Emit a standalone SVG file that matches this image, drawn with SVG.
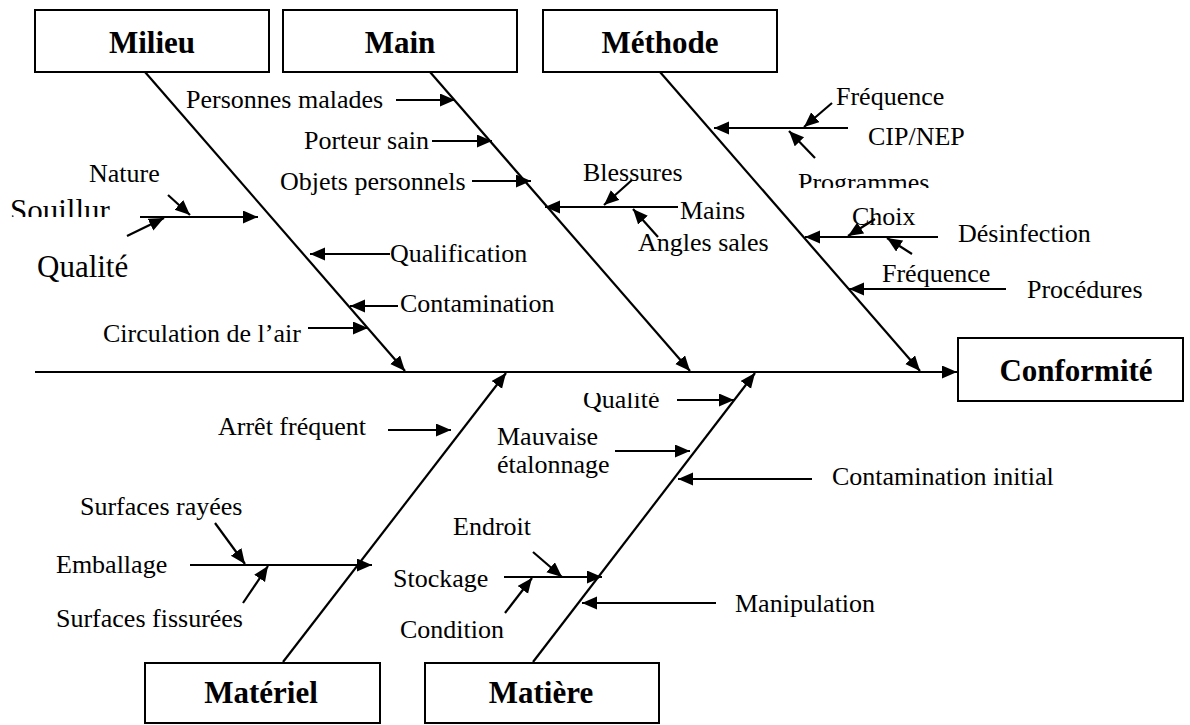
<svg xmlns="http://www.w3.org/2000/svg" width="1190" height="725" viewBox="0 0 1190 725">
  <style>
    .box { fill: #fff; stroke: #000; stroke-width: 2; }
    .head { font-family: "Liberation Serif", "Times New Roman", serif; font-weight: bold; font-size: 31px; fill: #000; text-anchor: middle; }
    .lbl { font-family: "Liberation Serif", "Times New Roman", serif; font-size: 26px; fill: #000; }
    .big { font-family: "Liberation Serif", "Times New Roman", serif; font-size: 31px; fill: #000; }
    .ln { stroke: #000; stroke-width: 2.2; fill: none; marker-end: url(#ah); }
  </style>
  <defs>
    <marker id="ah" markerUnits="userSpaceOnUse" markerWidth="16" markerHeight="14" refX="15" refY="6.5" orient="auto">
      <path d="M0,0 L15,6.5 L0,13 z" fill="#000"/>
    </marker>
    <clipPath id="clipTop217"><rect x="0" y="0" width="300" height="217"/></clipPath>
    <clipPath id="clipTop188"><rect x="700" y="0" width="400" height="188"/></clipPath>
    <clipPath id="clipBelow393"><rect x="500" y="393" width="300" height="100"/></clipPath>
  </defs>

  <!-- cause category boxes -->
  <g id="milieu"><rect class="box" x="35" y="10" width="234" height="62"/><text class="head" x="152" y="53">Milieu</text></g>
  <g id="main"><rect class="box" x="283" y="10" width="234" height="62"/><text class="head" x="400" y="53">Main</text></g>
  <g id="methode"><rect class="box" x="543" y="10" width="234" height="62"/><text class="head" x="660" y="53">Méthode</text></g>
  <g id="conformite"><rect class="box" x="958" y="338" width="225" height="63"/><text class="head" x="1076" y="381">Conformité</text></g>
  <g id="materiel"><rect class="box" x="145" y="663" width="235" height="60"/><text class="head" x="261" y="703">Matériel</text></g>
  <g id="matiere"><rect class="box" x="425" y="663" width="234" height="60"/><text class="head" x="541" y="703">Matière</text></g>

  <!-- spine, bones and sub-causes -->
  <g id="connectors">
    <line class="ln" x1="35" y1="372" x2="957" y2="372"/>
    <line class="ln" x1="145" y1="72" x2="405" y2="371"/>
    <line class="ln" x1="430" y1="72" x2="690" y2="371"/>
    <line class="ln" x1="660" y1="72" x2="920" y2="371"/>
    <line class="ln" x1="283" y1="662" x2="506" y2="373"/>
    <line class="ln" x1="533" y1="662" x2="755" y2="373"/>

    <!-- Milieu -->
    <line class="ln" x1="140" y1="217" x2="258" y2="217"/>
    <line class="ln" x1="168" y1="195" x2="190" y2="215"/>
    <line class="ln" x1="127" y1="236" x2="164" y2="218"/>
    <line class="ln" x1="390" y1="254" x2="310" y2="254"/>
    <line class="ln" x1="398" y1="306" x2="350" y2="306"/>
    <line class="ln" x1="308" y1="328" x2="368" y2="328"/>

    <!-- Main -->
    <line class="ln" x1="396" y1="100" x2="455" y2="100"/>
    <line class="ln" x1="432" y1="141" x2="492" y2="141"/>
    <line class="ln" x1="472" y1="181" x2="531" y2="181"/>
    <line class="ln" x1="678" y1="207" x2="545" y2="207"/>
    <line class="ln" x1="632" y1="180" x2="604" y2="205"/>
    <line class="ln" x1="658" y1="237" x2="633" y2="209"/>

    <!-- Méthode -->
    <line class="ln" x1="848" y1="128" x2="714" y2="128"/>
    <line class="ln" x1="832" y1="103" x2="804" y2="127"/>
    <line class="ln" x1="815" y1="158" x2="789" y2="131"/>
    <line class="ln" x1="938" y1="237" x2="805" y2="237"/>
    <line class="ln" x1="875" y1="219" x2="848" y2="236"/>
    <line class="ln" x1="912" y1="254" x2="887" y2="238"/>
    <line class="ln" x1="1006" y1="289" x2="849" y2="289"/>

    <!-- Matériel -->
    <line class="ln" x1="388" y1="430" x2="451" y2="430"/>
    <line class="ln" x1="190" y1="565" x2="372" y2="565"/>
    <line class="ln" x1="215" y1="523" x2="245" y2="564"/>
    <line class="ln" x1="243" y1="603" x2="268" y2="566"/>

    <!-- Matière -->
    <line class="ln" x1="677" y1="400" x2="734" y2="400"/>
    <line class="ln" x1="615" y1="451" x2="690" y2="451"/>
    <line class="ln" x1="812" y1="479" x2="678" y2="479"/>
    <line class="ln" x1="504" y1="577" x2="602" y2="577"/>
    <line class="ln" x1="533" y1="552" x2="562" y2="577"/>
    <line class="ln" x1="505" y1="613" x2="532" y2="578"/>
    <line class="ln" x1="716" y1="603" x2="582" y2="603"/>
  </g>

  <!-- labels -->
  <g id="labels">
    <text class="lbl" x="186" y="108">Personnes malades</text>
    <text class="lbl" x="304" y="149">Porteur sain</text>
    <text class="lbl" x="280" y="190">Objets personnels</text>
    <text class="lbl" x="89" y="182">Nature</text>
    <text class="big" x="10" y="221" clip-path="url(#clipTop217)">Souillur</text>
    <text class="big" x="37" y="277">Qualité</text>
    <text class="lbl" x="390" y="262">Qualification</text>
    <text class="lbl" x="400" y="312">Contamination</text>
    <text class="lbl" x="103" y="342">Circulation de l’air</text>
    <text class="lbl" x="583" y="181">Blessures</text>
    <text class="lbl" x="680" y="219">Mains</text>
    <text class="lbl" x="638" y="251">Angles sales</text>
    <text class="lbl" x="836" y="105">Fréquence</text>
    <text class="lbl" x="868" y="145">CIP/NEP</text>
    <text class="lbl" x="798" y="191" clip-path="url(#clipTop188)">Programmes</text>
    <text class="lbl" x="852" y="225">Choix</text>
    <text class="lbl" x="958" y="242">Désinfection</text>
    <text class="lbl" x="882" y="282">Fréquence</text>
    <text class="lbl" x="1027" y="298">Procédures</text>
    <text class="lbl" x="218" y="435">Arrêt fréquent</text>
    <text class="lbl" x="80" y="515">Surfaces rayées</text>
    <text class="lbl" x="56" y="573">Emballage</text>
    <text class="lbl" x="56" y="627">Surfaces fissurées</text>
    <text class="lbl" x="583" y="408" clip-path="url(#clipBelow393)">Qualité</text>
    <text class="lbl" x="497" y="445">Mauvaise</text>
    <text class="lbl" x="497" y="473">étalonnage</text>
    <text class="lbl" x="832" y="485">Contamination initial</text>
    <text class="lbl" x="453" y="535">Endroit</text>
    <text class="lbl" x="393" y="587">Stockage</text>
    <text class="lbl" x="400" y="638">Condition</text>
    <text class="lbl" x="735" y="612">Manipulation</text>
  </g>
</svg>
